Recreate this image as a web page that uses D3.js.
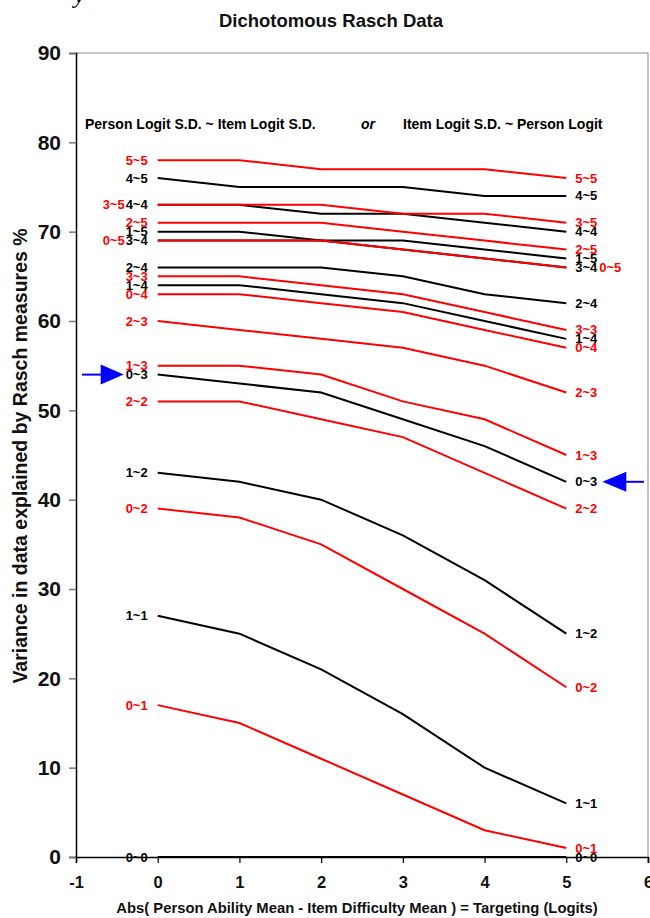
<!DOCTYPE html>
<meta charset="utf-8">
<body style="margin:0;background-color:white;">
<svg width="650" height="918"></svg>
<script src="https://d3js.org/d3.v7.min.js"></script>
<script>

// x positions (targeting, logits)
var xValues = [0, 1, 2, 3, 4, 5];

// series name = Person S.D. ~ Item S.D.
var seriesNames = ["5~5", "4~5", "3~5", "4~4", "2~5", "1~5", "3~4", "0~5", "2~4", "3~3",
                   "1~4", "0~4", "2~3", "1~3", "0~3", "2~2", "1~2", "0~2", "1~1", "0~1", "0~0"];

var seriesValues = [
	[78, 78, 77, 77, 77, 76],
	[76, 75, 75, 75, 74, 74],
	[73, 73, 73, 72, 72, 71],
	[73, 73, 72, 72, 71, 70],
	[71, 71, 71, 70, 69, 68],
	[70, 70, 69, 69, 68, 67],
	[69, 69, 69, 68, 67, 66],
	[69, 69, 69, 68, 67, 66],
	[66, 66, 66, 65, 63, 62],
	[65, 65, 64, 63, 61, 59],
	[64, 64, 63, 62, 60, 58],
	[63, 63, 62, 61, 59, 57],
	[60, 59, 58, 57, 55, 52],
	[55, 55, 54, 51, 49, 45],
	[54, 53, 52, 49, 46, 42],
	[51, 51, 49, 47, 43, 39],
	[43, 42, 40, 36, 31, 25],
	[39, 38, 35, 30, 25, 19],
	[27, 25, 21, 16, 10, 6],
	[17, 15, 11, 7, 3, 1],
	[0, 0, 0, 0, 0, 0]
];

// series drawn in red, the rest are black
var redSeries = ["5~5", "3~5", "2~5", "0~5", "3~3", "0~4", "2~3", "1~3", "2~2", "0~2", "0~1"];

// the series the blue arrows point at
var arrowSeries = "0~3";

var xTicks = [-1, 0, 1, 2, 3, 4, 5, 6];
var yTicks = [0, 10, 20, 30, 40, 50, 60, 70, 80, 90];

var font = "'Liberation Sans', Arial, sans-serif";

var svg = d3.select("svg");

var x = d3.scaleLinear().domain([-1, 6]).range([76, 648]);
var y = d3.scaleLinear().domain([0, 90]).range([857, 53]);

// clipped leftover glyph at the very top
svg.append('text')
	.attr('x', 74).attr('y', 3)
	.attr('font-family', "'Liberation Serif', serif")
	.attr('font-style', 'italic')
	.attr('font-size', 24)
	.text('y');

svg.append('text')
	.attr('x', 331).attr('y', 27)
	.attr('text-anchor', 'middle')
	.attr('font-family', font).attr('font-weight', 'bold')
	.attr('font-size', 18.5)
	.attr('fill', '#111')
	.text('Dichotomous Rasch Data');

// frame (gray top / right)
svg.append('line')
	.attr('x1', x(-1)).attr('x2', x(6)).attr('y1', y(90)).attr('y2', y(90))
	.attr('stroke', '#888').attr('stroke-width', 1);
svg.append('line')
	.attr('x1', x(6)).attr('x2', x(6)).attr('y1', y(90)).attr('y2', y(0) + 6)
	.attr('stroke', '#888').attr('stroke-width', 1);

// axes
var yAxis = svg.append('g')
	.attr('transform', 'translate(' + x(-1) + ',0)')
	.call(d3.axisLeft(y).tickValues(yTicks).tickSize(7).tickPadding(8).tickFormat(function(d) { return String(d); }));
yAxis.select('.domain').attr('stroke', '#000').attr('stroke-width', 1.5);
yAxis.selectAll('.tick line').attr('stroke', '#777').attr('stroke-width', 1.5);
yAxis.selectAll('.tick text')
	.attr('font-family', font).attr('font-weight', 'bold').attr('font-size', 21).attr('fill', '#111');

var xAxis = svg.append('g')
	.attr('transform', 'translate(0,' + y(0) + ')')
	.call(d3.axisBottom(x).tickValues(xTicks).tickSize(6).tickPadding(13).tickFormat(function(d) { return String(d); }));
xAxis.select('.domain').attr('stroke', '#000').attr('stroke-width', 1.5);
xAxis.selectAll('.tick line').attr('stroke', '#000').attr('stroke-width', 1.2);
xAxis.selectAll('.tick text')
	.attr('font-family', font).attr('font-weight', 'bold').attr('font-size', 16.5).attr('fill', '#111');

svg.append('text')
	.attr('x', 357).attr('y', 913)
	.attr('text-anchor', 'middle')
	.attr('font-family', font).attr('font-weight', 'bold')
	.attr('font-size', 14.8)
	.attr('fill', '#111')
	.text('Abs( Person Ability Mean - Item Difficulty Mean ) = Targeting (Logits)');

svg.append('text')
	.attr('transform', 'translate(27,456)rotate(-90)')
	.attr('text-anchor', 'middle')
	.attr('font-family', font).attr('font-weight', 'bold')
	.attr('font-size', 19.5)
	.attr('fill', '#111')
	.text('Variance in data explained by Rasch measures %');

// header line inside the plot
var header = svg.append('text')
	.attr('y', 129)
	.attr('font-family', font).attr('font-weight', 'bold')
	.attr('font-size', 14)
	.attr('fill', '#000');
header.append('tspan').attr('x', 85).text('Person Logit S.D. ~ Item Logit S.D.');
header.append('tspan').attr('x', 361).attr('font-style', 'italic').text('or');
header.append('tspan').attr('x', 403).text('Item Logit S.D. ~ Person Logit');

// lines: black first, red on top
var series = seriesNames.map(function(name, i) {
	return { name: name, values: seriesValues[i], red: redSeries.indexOf(name) >= 0 };
});
var ordered = series.filter(function(s) { return !s.red; })
	.concat(series.filter(function(s) { return s.red; }));

var line = d3.line()
	.x(function(d, i) { return x(xValues[i]); })
	.y(function(d) { return y(d); });

var lines = svg.append('g');
ordered.forEach(function(s) {
	lines.append('path')
		.attr('d', line(s.values))
		.attr('fill', 'none')
		.attr('stroke', s.red ? '#ff0000' : '#000')
		.attr('stroke-width', 2);
});

// end labels, a second label at the same value is pushed outward
var labels = svg.append('g')
	.attr('font-family', font).attr('font-weight', 'bold')
	.attr('font-size', 13);
var usedLeft = {}, usedRight = {};
ordered.forEach(function(s) {
	var v0 = s.values[0], v1 = s.values[s.values.length - 1];
	var shiftL = usedLeft[v0] ? 23 : 0, shiftR = usedRight[v1] ? 24 : 0;
	usedLeft[v0] = true; usedRight[v1] = true;
	labels.append('text')
		.attr('x', x(xValues[0]) - 10 - shiftL)
		.attr('y', y(v0) + 4.5)
		.attr('text-anchor', 'end')
		.attr('fill', s.red ? '#ff0000' : '#000')
		.text(s.name);
	labels.append('text')
		.attr('x', x(xValues[xValues.length - 1]) + 9 + shiftR)
		.attr('y', y(v1) + 4.5)
		.attr('fill', s.red ? '#ff0000' : '#000')
		.text(s.name);
});

// blue arrows pointing at the marked series
var marked = series.filter(function(s) { return s.name == arrowSeries; })[0];
var ay0 = y(marked.values[0]), ay1 = y(marked.values[marked.values.length - 1]);
var leftTip = x(xValues[0]) - 34;
svg.append('line')
	.attr('x1', 82).attr('x2', leftTip - 20).attr('y1', ay0).attr('y2', ay0)
	.attr('stroke', '#0000ff').attr('stroke-width', 2);
svg.append('path')
	.attr('d', 'M' + leftTip + ',' + ay0 + 'L' + (leftTip - 23) + ',' + (ay0 - 10) + 'L' + (leftTip - 23) + ',' + (ay0 + 10) + 'Z')
	.attr('fill', '#0000ff');
var rightTip = x(xValues[xValues.length - 1]) + 36;
svg.append('line')
	.attr('x1', rightTip + 20).attr('x2', 644).attr('y1', ay1).attr('y2', ay1)
	.attr('stroke', '#0000ff').attr('stroke-width', 2);
svg.append('path')
	.attr('d', 'M' + rightTip + ',' + ay1 + 'L' + (rightTip + 24) + ',' + (ay1 - 10) + 'L' + (rightTip + 24) + ',' + (ay1 + 10) + 'Z')
	.attr('fill', '#0000ff');

</script>
</body>
